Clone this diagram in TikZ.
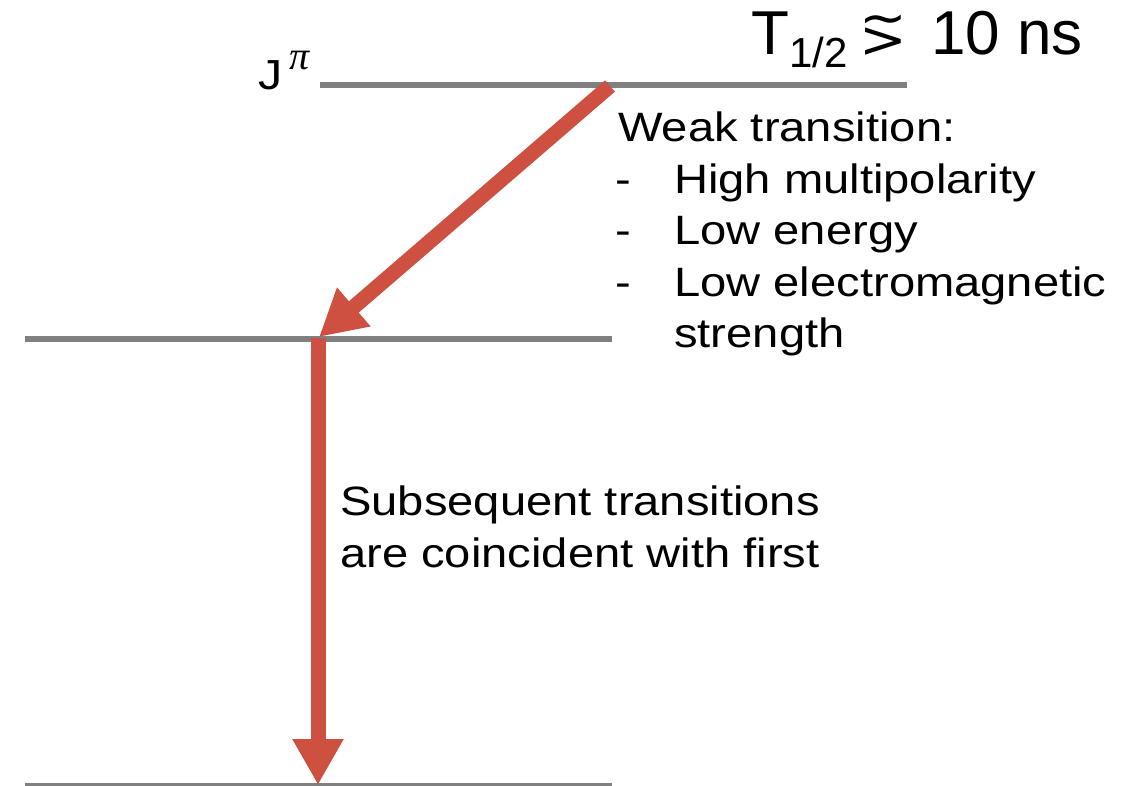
\documentclass[tikz,border=0pt]{standalone}
\usepackage{fontspec}
\setmainfont{Liberation Sans}
\newfontfamily\bodyfont{Liberation Sans}[FakeStretch=1.15]
\newfontfamily\symfont{DejaVu Sans}
\newfontfamily\pifont{Liberation Serif}
\usetikzlibrary{arrows.meta}
\definecolor{arrowred}{RGB}{205,80,64}
\definecolor{levelgray}{RGB}{128,128,128}
\tikzset{
  level/.style={draw=levelgray, line width=6pt},
  trans/.style={draw=arrowred, line width=15pt,
    -{Triangle[length=46pt,width=48pt,color=arrowred]}},
  body/.style={font=\bodyfont\fontsize{41}{51.5}\selectfont, inner sep=0pt, anchor=base west},
  big/.style={font=\fontsize{62}{62}\selectfont, inner sep=0pt, anchor=base west},
}
\begin{document}
\begin{tikzpicture}[x=1pt,y=-1pt]
\useasboundingbox (0,0) rectangle (1144,786);
\clip (0,0) rectangle (1144,786);
% level endpoints
\coordinate (topL) at (320,85);
\coordinate (topR) at (907,85);
\coordinate (midL) at (25,339);
\coordinate (midR) at (612,339);
\coordinate (botL) at (25,786);
\coordinate (botR) at (612,786);
% arrow endpoints
\coordinate (d1) at (610,86);
\coordinate (d2) at (319,337);
\coordinate (v1) at (318,338);
\coordinate (v2) at (318,785);
% levels
\draw[level] (topL) -- (topR);
\draw[level] (midL) -- (midR);
\draw[level] (botL) -- (botR);
% transitions
\draw[trans] (d1) -- (d2);
\draw[trans] (v1) -- (v2);
% labels
\node[body, font=\bodyfont\fontsize{42}{42}\selectfont] (jpi) at (258,90)
  {J\hspace{7pt}\raisebox{20pt}{\pifont\itshape\fontsize{40}{40}\selectfont π}};
\node[big] (thalf) at (751,55)
  {T\raisebox{-13pt}{\fontsize{42}{42}\selectfont 1/2}\hspace{12pt}\raisebox{-3pt}{\scalebox{0.95}[0.85]{\symfont\fontsize{60}{60}\selectfont\rlap{\smash{\raisebox{26pt}{∼}}}>}}\hspace{24pt}10 ns};
\node[body] (weak) at (618,142) {Weak transition:};
\node[body] (dash1) at (615,193.5) {-};
\node[body] (item1) at (674,193.5) {High multipolarity};
\node[body] (dash2) at (615,245) {-};
\node[body] (item2) at (674,245) {Low energy};
\node[body] (dash3) at (615,296.5) {-};
\node[body] (item3) at (674,296.5) {Low electromagnetic};
\node[body] (item3b) at (674,348) {strength};
\node[body] (subs1) at (340,515) {Subsequent transitions};
\node[body] (subs2) at (340,567) {are coincident with first};
\end{tikzpicture}
\end{document}
